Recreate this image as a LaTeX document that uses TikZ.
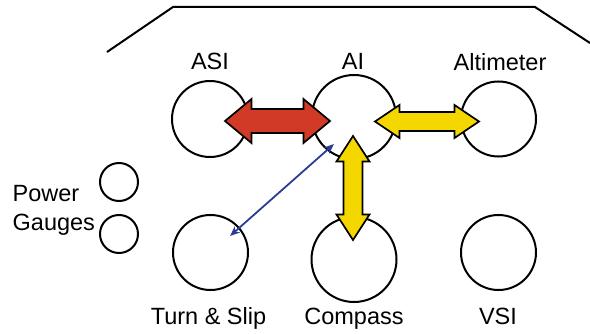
\documentclass[tikz,border=0pt]{standalone}
\usepackage{fontspec}
\setmainfont{Liberation Sans}
\usetikzlibrary{arrows.meta,calc}
\definecolor{arrred}{RGB}{210,58,40}
\definecolor{arryel}{RGB}{245,215,0}
\definecolor{arrblue}{RGB}{42,60,150}
% horizontal block arrow: #1 left tip, #2 right tip, #3 head length, #4 shaft half, #5 head half, #6 colour
\newcommand\hblockarrow[6]{%
  \draw[blockarrow,fill=#6] (#1) -- ($(#1)+(#3,-#5)$) -- ($(#1)+(#3,-#4)$) -- ($(#2)+(-#3,-#4)$) -- ($(#2)+(-#3,-#5)$) -- (#2) -- ($(#2)+(-#3,#5)$) -- ($(#2)+(-#3,#4)$) -- ($(#1)+(#3,#4)$) -- ($(#1)+(#3,#5)$) -- cycle;}
% vertical block arrow: #1 top tip, #2 bottom tip
\newcommand\vblockarrow[6]{%
  \draw[blockarrow,fill=#6] (#1) -- ($(#1)+(-#5,#3)$) -- ($(#1)+(-#4,#3)$) -- ($(#2)+(-#4,-#3)$) -- ($(#2)+(-#5,-#3)$) -- (#2) -- ($(#2)+(#5,-#3)$) -- ($(#2)+(#4,-#3)$) -- ($(#1)+(#4,#3)$) -- ($(#1)+(#5,#3)$) -- cycle;}
\begin{document}
\begin{tikzpicture}[x=1pt,y=-1pt,
  gauge/.style={circle,draw,line width=2pt,inner sep=0pt},
  lbl/.style={font=\fontsize{23.5}{28}\selectfont,inner sep=0pt,anchor=base},
  blockarrow/.style={draw=black,line width=1.7pt,line join=miter},
  panel/.style={draw,line width=2pt}]
\useasboundingbox (0,0) rectangle (590,334);
% panel outline
\coordinate (p1) at (107,52);
\coordinate (p2) at (173,7);
\coordinate (p3) at (535,7);
\coordinate (p4) at (590,43);
\draw[panel] (p1) -- (p2) -- (p3) -- (p4);
% gauges
\node[gauge,minimum size=76pt] (asi) at (210,119) {};
\node[gauge,minimum size=84pt] (ai) at (354,117) {};
\node[gauge,minimum size=75pt] (alt) at (498.5,119) {};
\node[gauge,minimum size=75pt] (turn) at (210.5,252.5) {};
\node[gauge,minimum size=85pt] (comp) at (354,259.5) {};
\node[gauge,minimum size=75pt] (vsi) at (498.5,252.5) {};
\node[gauge,minimum size=38pt] (pg1) at (119,182) {};
\node[gauge,minimum size=38pt] (pg2) at (119,234) {};
% labels
\node[lbl] (tasi) at (210,70) {ASI};
\node[lbl] (tai) at (353,70) {AI};
\node[lbl] (talt) at (500,70.5) {Altimeter};
\node[lbl] (tturn) at (208.5,325) {Turn \& Slip};
\node[lbl] (tcomp) at (354,325) {Compass};
\node[lbl] (tvsi) at (498,325) {VSI};
\node[lbl,anchor=base west] (tpow) at (12.5,201.5) {Power};
\node[lbl,anchor=base west] (tgau) at (12.5,231) {Gauges};
% arrow end points
\coordinate (redL) at (225,121);
\coordinate (redR) at (330,121);
\coordinate (yhL) at (375,121.5);
\coordinate (yhR) at (479,121.5);
\coordinate (yvT) at (353,136);
\coordinate (yvB) at (353,240);
\coordinate (blA) at (334,144);
\coordinate (blB) at (230,236);
% block arrows
\hblockarrow{redL}{redR}{26.5}{12}{22}{arrred}
\hblockarrow{yhL}{yhR}{24.5}{9.5}{16.5}{arryel}
\vblockarrow{yvT}{yvB}{25.5}{9.5}{16.5}{arryel}
% thin blue arrow
\draw[draw=arrblue,line width=1.8pt,{Stealth[length=10pt,width=8pt]}-{Stealth[length=10pt,width=8pt]}] (blA) -- (blB);
\end{tikzpicture}
\end{document}
